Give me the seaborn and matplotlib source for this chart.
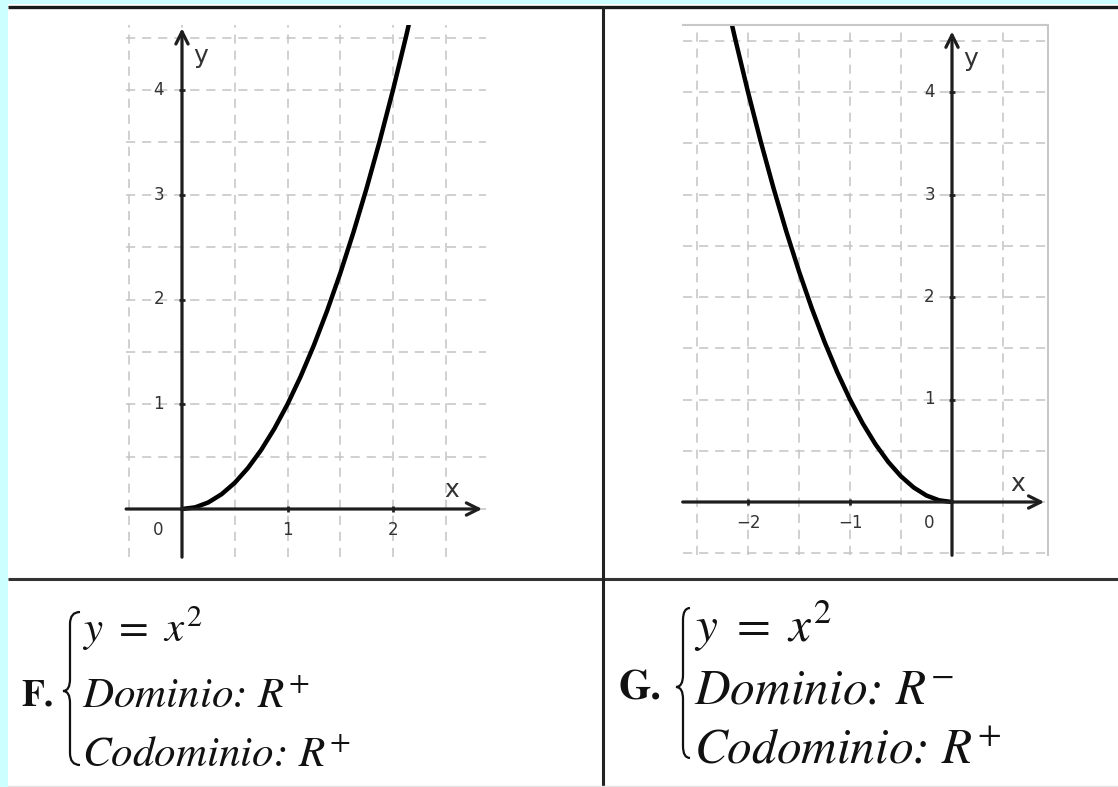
import matplotlib
matplotlib.use('Agg')
import matplotlib.pyplot as plt
import seaborn as sns
from matplotlib.path import Path
from matplotlib.patches import PathPatch, Rectangle

# curve points
f_x = [0, 0.125, 0.25, 0.375, 0.5, 0.625, 0.75, 0.875, 1.0, 1.125, 1.25, 1.375,
       1.5, 1.625, 1.75, 1.875, 2.0, 2.125, 2.16]
f_y = [0, 0.016, 0.063, 0.141, 0.25, 0.391, 0.563, 0.766, 1.0, 1.266, 1.563, 1.891,
       2.25, 2.641, 3.063, 3.516, 4.0, 4.516, 4.67]
g_x = [-2.17, -2.125, -2.0, -1.875, -1.75, -1.625, -1.5, -1.375, -1.25, -1.125, -1.0,
       -0.875, -0.75, -0.625, -0.5, -0.375, -0.25, -0.125, 0]
g_y = [4.71, 4.516, 4.0, 3.516, 3.063, 2.641, 2.25, 1.891, 1.563, 1.266, 1.0,
       0.766, 0.563, 0.391, 0.25, 0.141, 0.063, 0.016, 0]

f_xticks = [1, 2]
g_xticks = [-2, -1]
yticks = [1, 2, 3, 4]

f_lines = [r'$y\ =\ x^{2}$', 'Dominio: $R^{+}$', 'Codominio: $R^{+}$']
g_lines = [r'$y\ =\ x^{2}$', 'Dominio: $R^{-}$', 'Codominio: $R^{+}$']

sns.set_style('white')
plt.rcParams['font.family'] = ['DejaVu Sans']
plt.rcParams['mathtext.fontset'] = 'stix'

W, H = 1118, 787
fig = plt.figure(figsize=(W / 100, H / 100), dpi=100)

# background / table frame in pixel coords
bg = fig.add_axes([0, 0, 1, 1])
bg.set_xlim(0, W)
bg.set_ylim(H, 0)
bg.axis('off')
bg.add_patch(Rectangle((0, 0), 8, H, color='#ccffff', lw=0))
bg.add_patch(Rectangle((0, 0), W, 4, color='#ccffff', lw=0))
bg.plot([8, W], [6.5, 6.5], color='#1a1a1a', lw=2.4, solid_capstyle='butt')
bg.plot([8, W], [579, 579], color='#333333', lw=2.2, solid_capstyle='butt')
bg.plot([603, 603], [6, H], color='#222222', lw=2.2, solid_capstyle='butt')
bg.plot([8, W], [785.5, 785.5], color='#e4e4e4', lw=1)


def brace(ax, x_end, x_stem, x_cusp, y_top, y_mid, y_bot, r):
    verts = [(x_end, y_top), (x_stem, y_top), (x_stem, y_top + r),
             (x_stem, y_mid - r),
             (x_stem, y_mid), (x_cusp, y_mid),
             (x_stem, y_mid), (x_stem, y_mid + r),
             (x_stem, y_bot - r),
             (x_stem, y_bot), (x_end, y_bot)]
    codes = [Path.MOVETO, Path.CURVE3, Path.CURVE3, Path.LINETO,
             Path.CURVE3, Path.CURVE3, Path.CURVE3, Path.CURVE3,
             Path.LINETO, Path.CURVE3, Path.CURVE3]
    ax.add_patch(PathPatch(Path(verts, codes), fill=False, lw=1.6, color='#111111'))


def text_block(ax, label, lines, x_lab, x_txt, baselines, lab_size, size):
    ax.text(x_lab, baselines[1] - 3, label, fontsize=lab_size, fontweight='bold',
            family='STIXGeneral', va='baseline', ha='left', color='#111111')
    for s, yb in zip(lines, baselines):
        ax.text(x_txt, yb, s, fontsize=size, style='italic', family='STIXGeneral',
                va='baseline', ha='left', color='#111111')


text_block(bg, 'F.', f_lines, 21, 82, [642, 708, 767], 27, 31)
brace(bg, 80, 70, 63, 612, 691, 765, 12)
text_block(bg, 'G.', g_lines, 619, 694, [642, 703, 763], 30, 35.5)
brace(bg, 690, 683, 676, 608, 687, 758, 12)


def graph(ox, oy, sx, sy, xlim, ylim, cx, cy, xticks, origin_x, xlab_x, frame):
    left = ox + xlim[0] * sx
    right = ox + xlim[1] * sx
    top = oy - ylim[1] * sy
    bottom = oy - ylim[0] * sy
    ax = fig.add_axes([left / W, 1 - bottom / H, (right - left) / W, (bottom - top) / H])
    ax.set_facecolor('none')
    ax.set_xlim(*xlim)
    ax.set_ylim(*ylim)
    gx = [v / 2 for v in range(-6, 6)]
    ax.set_xticks([v for v in gx if xlim[0] <= v <= xlim[1]])
    ax.set_yticks([v / 2 for v in range(-1, 10) if ylim[0] <= v / 2 <= ylim[1]])
    ax.tick_params(length=0, labelbottom=False, labelleft=False)
    ax.grid(True, color='#c4c4c4', lw=1.1, ls=(0, (6, 4.5)))
    for side in ['left', 'bottom']:
        ax.spines[side].set_visible(False)
    for side in ['top', 'right']:
        ax.spines[side].set_visible(frame)
        ax.spines[side].set_color('#c8c8c8')
        ax.spines[side].set_linewidth(1.5)

    arrow = dict(arrowstyle='->', lw=2.3, color='#1e1e1e', mutation_scale=22,
                 shrinkA=0, shrinkB=0)
    ax.annotate('', xy=(xlim[1] - 0.035, 0), xytext=(xlim[0], 0), arrowprops=arrow)
    ax.annotate('', xy=(0, 4.59), xytext=(0, ylim[0]), arrowprops=arrow)

    sns.lineplot(x=cx, y=cy, ax=ax, color='black', lw=3.2, sort=False,
                 estimator=None)
    ax.set_xlabel('')
    ax.set_ylabel('')

    tk = dict(fontsize=12, color='#333333', ha='center', va='center')
    for t in xticks:
        ax.text(t, -0.2, str(t).replace('-', '\u2212'), **tk)
        ax.plot([t], [0], marker='|', ms=5, mew=2, color='#222222')
    ax.text(origin_x, -0.2, '0', **tk)
    for t in yticks:
        ax.text(-0.22, t, str(t), **tk)
        ax.plot([0], [t], marker='_', ms=5, mew=2, color='#222222')
    ax.text(0.18, 4.32, 'y', fontsize=18, color='#333333', ha='center', va='center')
    ax.text(xlab_x, 0.18, 'x', fontsize=18, color='#333333', ha='center', va='center')
    return ax


graph(182, 509, 105.5, 104.75, (-0.53, 2.88), (-0.46, 4.62), f_x, f_y,
      f_xticks, -0.23, 2.56, False)
graph(952, 502, 102, 102.5, (-2.64, 0.94), (-0.52, 4.65), g_x, g_y,
      g_xticks, -0.22, 0.64, True)

fig.savefig('out.png', dpi=100)
